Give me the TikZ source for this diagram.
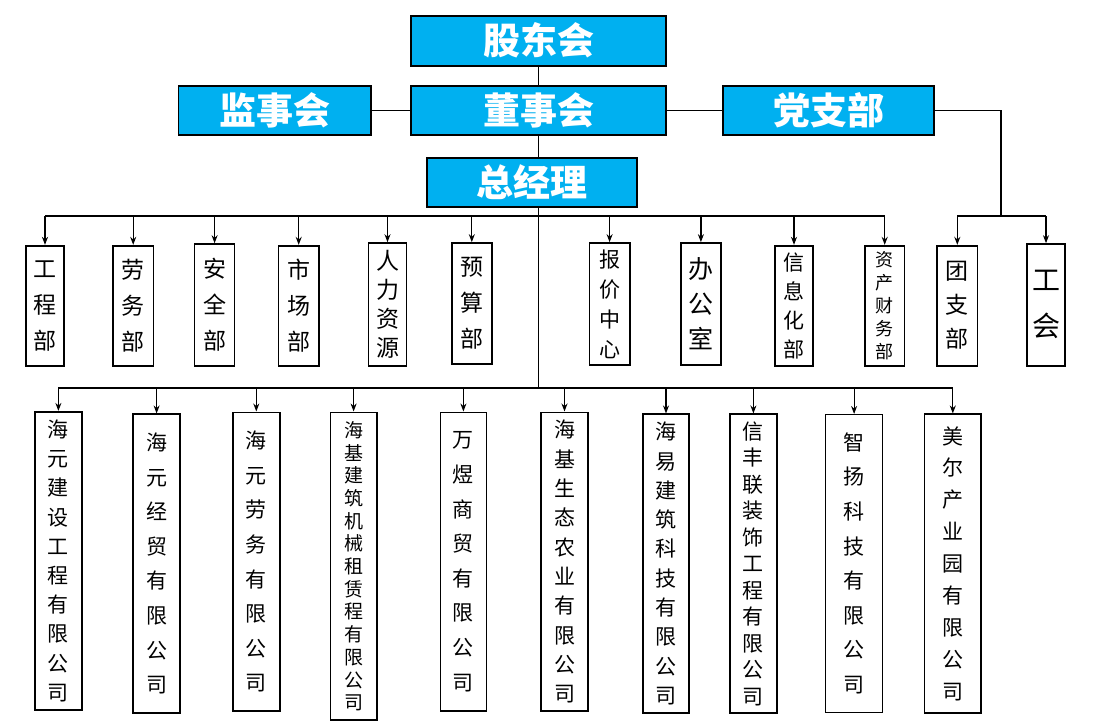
\documentclass[tikz,border=0pt]{standalone}
\usepackage{fontspec}
\usetikzlibrary{arrows.meta}
\newfontfamily\cjk{Noto Sans CJK SC}
\definecolor{topblue}{HTML}{00B0F0}
\tikzset{
  topbox/.style={draw=black, line width=1.8pt, fill=topblue, text=white, inner sep=0pt,
    font={\cjk\bfseries\fontsize{37}{40}\selectfont}},
  vbox/.style={draw=black, line width=1.7pt, fill=white, inner sep=0pt, align=center},
  thinbox/.style={vbox, line width=0.8pt},
  fs/.style 2 args={font={\cjk\fontsize{#1}{#2}\selectfont}},
  link/.style={line width=1.4pt},
  arr/.style={line width=1.2pt, -{Stealth[length=8pt,width=6pt]}}
}
\begin{document}
\begin{tikzpicture}[x=1pt,y=-1pt]
\useasboundingbox[fill=white] (0,0) rectangle (1107,721);
% top level
\node[topbox, minimum width=255pt, minimum height=50pt] (gdh) at (538.5,40.7) {股东会};
\node[topbox, minimum width=192.5pt, minimum height=49pt] (jsh) at (274.8,110.5) {监事会};
\node[topbox, minimum width=255pt, minimum height=49pt] (dsh) at (538.5,110.5) {董事会};
\node[topbox, minimum width=211pt, minimum height=49pt] (dzb) at (828.5,110.5) {党支部};
\node[topbox, minimum width=210pt, minimum height=49pt] (zjl) at (532,182.2) {总经理};
% departments
\node[vbox, fs={23}{36}, minimum width=38.6pt, minimum height=120pt] (d1) at (45,305.7) {工\\程\\部};
\node[vbox, fs={23}{36}, minimum width=40.7pt, minimum height=120pt] (d2) at (133.2,305.7) {劳\\务\\部};
\node[vbox, fs={23}{36}, minimum width=40pt, minimum height=121.7pt] (d3) at (214.6,304.9) {安\\全\\部};
\node[vbox, fs={23}{36}, minimum width=40.3pt, minimum height=120pt] (d4) at (298.7,305.7) {市\\场\\部};
\node[vbox, fs={23}{29}, minimum width=37.8pt, minimum height=122.7pt] (d5) at (387.5,304.4) {人\\力\\资\\源};
\node[vbox, fs={23}{36}, minimum width=40pt, minimum height=121pt] (d6) at (471.8,303.5) {预\\算\\部};
\node[vbox, fs={21}{30}, minimum width=40.2pt, minimum height=122pt] (d7) at (609.6,304) {报\\价\\中\\心};
\node[vbox, fs={25}{35}, minimum width=39.8pt, minimum height=122pt] (d8) at (700.9,304) {办\\公\\室};
\node[vbox, fs={21}{29}, minimum width=38pt, minimum height=120pt] (d9) at (794,305.7) {信\\息\\化\\部};
\node[vbox, fs={18}{23}, minimum width=39.8pt, minimum height=120pt] (d10) at (884.7,305.7) {资\\产\\财\\务\\部};
\node[vbox, fs={23}{34}, minimum width=40.6pt, minimum height=120pt] (d11) at (957.3,305.7) {团\\支\\部};
\node[vbox, fs={28}{46}, minimum width=38pt, minimum height=121.7pt] (d12) at (1046,304.9) {工\\会};
% companies
\node[vbox, fs={21}{29.2}, minimum width=47.5pt, minimum height=298.3pt] (c1) at (58.4,560.9) {海\\元\\建\\设\\工\\程\\有\\限\\公\\司};
\node[vbox, fs={21}{34.6}, minimum width=46.8pt, minimum height=298.4pt] (c2) at (156.6,563.5) {海\\元\\经\\贸\\有\\限\\公\\司};
\node[vbox, fs={21}{34.6}, minimum width=46.7pt, minimum height=298.7pt] (c3) at (256.3,561.7) {海\\元\\劳\\务\\有\\限\\公\\司};
\node[vbox, fs={19}{22.7}, minimum width=46.4pt, minimum height=307.7pt] (c4) at (353.6,566.2) {海\\基\\建\\筑\\机\\械\\租\\赁\\程\\有\\限\\公\\司};
\node[vbox, fs={21}{34.6}, minimum width=46pt, minimum height=298.7pt] (c5) at (463.4,561.7) {万\\煜\\商\\贸\\有\\限\\公\\司};
\node[vbox, fs={21}{29.3}, minimum width=47pt, minimum height=298.7pt] (c6) at (564.5,561.7) {海\\基\\生\\态\\农\\业\\有\\限\\公\\司};
\node[vbox, fs={21}{29.3}, minimum width=46pt, minimum height=298.4pt] (c7) at (666,563.5) {海\\易\\建\\筑\\科\\技\\有\\限\\公\\司};
\node[vbox, fs={21}{26.5}, minimum width=47pt, minimum height=298.4pt] (c8) at (753.4,563.5) {信\\丰\\联\\装\\饰\\工\\程\\有\\限\\公\\司};
\node[thinbox, fs={21}{34.6}, minimum width=56.8pt, minimum height=298.1pt] (c9) at (854.1,563.4) {智\\扬\\科\\技\\有\\限\\公\\司};
\node[vbox, fs={21}{31.9}, minimum width=56.8pt, minimum height=298.4pt] (c10) at (952.8,563.5) {美\\尔\\产\\业\\园\\有\\限\\公\\司};
% bars
\coordinate (bar1) at (538.5,216);
\coordinate (bar2) at (538.5,388);
\coordinate (pbend) at (1001,110.5);
\coordinate (bar3) at (1001,216);
% top connectors
\draw[link] (gdh.south) -- (dsh.north);
\draw[link] (jsh.east) -- (dsh.west);
\draw[link] (dsh.east) -- (dzb.west);
\draw[link] (dsh.south) -- (dsh.south |- zjl.north);
\draw[link] (dsh.south |- zjl.south) -- (bar2);
\draw[link] (dzb.east) -- (pbend) -- (bar3);
% department bar
\draw[link] (d1.north |- bar1) -- (d10.north |- bar1);
\foreach \n in {d1,d2,d3,d4,d5,d6,d7,d8,d9,d10}
  \draw[arr] (\n.north |- bar1) -- (\n.north);
% party bar
\draw[link] (d11.north |- bar3) -- (d12.north |- bar3);
\foreach \n in {d11,d12}
  \draw[arr] (\n.north |- bar3) -- (\n.north);
% company bar
\draw[link] (c1.north |- bar2) -- (c10.north |- bar2);
\foreach \n in {c1,c2,c3,c4,c5,c6,c7,c8,c9,c10}
  \draw[arr] (\n.north |- bar2) -- (\n.north);
\end{tikzpicture}
\end{document}
